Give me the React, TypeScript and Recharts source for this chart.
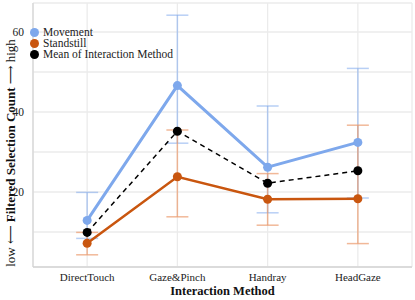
import React from 'react';
import { LineChart, Line, XAxis, YAxis, CartesianGrid, ErrorBar } from 'recharts';

const categories = ['DirectTouch', 'Gaze&Pinch', 'Handray', 'HeadGaze'];
const movement = [12.9, 46.6, 26.2, 32.4];
const movementLow = [8.4, 32.2, 14.8, 18.5];
const movementHigh = [19.9, 64.2, 41.5, 50.9];
const standstill = [7.2, 23.8, 18.2, 18.3];
const standstillLow = [4.3, 13.8, 11.7, 7.1];
const standstillHigh = [9.9, 35.5, 24.6, 36.7];
const meanValues = [9.9, 35.2, 22.2, 25.3];
const yTicks = [10, 20, 30, 40, 50, 60];
const yLabels = [20, 40, 60];

const FONT = 'Liberation Serif, DejaVu Serif, serif';
const BLUE = '#7ea8ec';
const ORANGE = '#c9560f';

const data = categories.map((c, i) => ({
  x: i,
  name: c,
  movement: movement[i],
  movementErr: [movement[i] - movementLow[i], movementHigh[i] - movement[i]],
  standstill: standstill[i],
  standstillErr: [standstill[i] - standstillLow[i], standstillHigh[i] - standstill[i]],
  mean: meanValues[i],
}));

const legendItems = [
  { label: 'Movement', color: BLUE },
  { label: 'Standstill', color: ORANGE },
  { label: 'Mean of Interaction Method', color: '#000000' },
];

const LegendBox = () => (
  <div
    style={{
      position: 'absolute',
      left: 30,
      top: 27,
      fontFamily: FONT,
      fontSize: 11.5,
      color: '#222',
      lineHeight: '11px',
    }}
  >
    {legendItems.map((it) => (
      <div key={it.label} style={{ display: 'flex', alignItems: 'center', height: 11 }}>
        <span
          style={{
            display: 'inline-block',
            width: 9,
            height: 9,
            borderRadius: '50%',
            background: it.color,
            marginRight: 4,
          }}
        />
        <span>{it.label}</span>
      </div>
    ))}
  </div>
);

const YLabel = () => {
  const cx = 10;
  const cy = 153;
  return (
    <text
      x={cx}
      y={cy}
      transform={`rotate(-90 ${cx} ${cy})`}
      textAnchor="middle"
      dominantBaseline="central"
      style={{ fontFamily: FONT, fontSize: 13, fill: '#111' }}
    >
      <tspan>low ⟵ </tspan>
      <tspan fontWeight="bold">Filtered Selection Count</tspan>
      <tspan> ⟶ high</tspan>
    </text>
  );
};

export default function App() {
  return (
    <div style={{ position: 'absolute', left: 0, top: 0, width: 415, height: 300, background: '#fff', fontFamily: FONT }}>
      <LineChart
        width={415}
        height={300}
        data={data}
        margin={{ top: 3, right: 3, left: 0, bottom: 0 }}
        style={{ fontFamily: FONT }}
      >
        <CartesianGrid stroke="#ebebeb" strokeWidth={1.3} />
        <XAxis
          dataKey="x"
          type="number"
          domain={[-0.6, 3.6]}
          ticks={[0, 1, 2, 3]}
          interval={0}
          tickFormatter={(v: number) => categories[v] ?? ''}
          height={33}
          tickLine={false}
          axisLine={{ stroke: '#d4d4d4', strokeWidth: 1.5 }}
          tick={{ style: { fontFamily: FONT }, fontSize: 11, fill: '#222' }}
          tickMargin={0}
          label={{
            value: 'Interaction Method',
            position: 'insideBottom',
            offset: 5,
            style: { fontFamily: FONT, fontSize: 12.5, fontWeight: 'bold', fill: '#111' },
          }}
        />
        <YAxis
          type="number"
          domain={[1.25, 67.25]}
          ticks={yTicks}
          interval={0}
          tickFormatter={(v: number) => (yLabels.includes(v) ? String(v) : '')}
          width={33}
          tickLine={false}
          axisLine={{ stroke: '#d4d4d4', strokeWidth: 1.2 }}
          tick={{ style: { fontFamily: FONT }, fontSize: 11.5, fill: '#222' }}
          tickMargin={3}
          allowDataOverflow
          label={<YLabel />}
        />
        <Line
          dataKey="movement"
          stroke={BLUE}
          strokeOpacity={0}
          dot={false}
          activeDot={false}
          isAnimationActive={false}
          legendType="none"
        >
          <ErrorBar dataKey="movementErr" direction="y" width={11} stroke={BLUE} strokeOpacity={0.55} strokeWidth={1.5} />
        </Line>
        <Line
          dataKey="standstill"
          stroke={ORANGE}
          strokeOpacity={0}
          dot={false}
          activeDot={false}
          isAnimationActive={false}
          legendType="none"
        >
          <ErrorBar dataKey="standstillErr" direction="y" width={11} stroke="#eb9a6c" strokeOpacity={0.7} strokeWidth={1.5} />
        </Line>
        <Line
          dataKey="movement"
          stroke={BLUE}
          strokeWidth={3}
          dot={{ r: 4.5, fill: BLUE, stroke: 'none' }}
          activeDot={false}
          isAnimationActive={false}
        />
        <Line
          dataKey="standstill"
          stroke={ORANGE}
          strokeWidth={2.6}
          dot={{ r: 4.5, fill: ORANGE, stroke: 'none' }}
          activeDot={false}
          isAnimationActive={false}
        />
        <Line
          dataKey="mean"
          stroke="#000"
          strokeWidth={1.5}
          strokeDasharray="5 4"
          dot={{ r: 4.5, fill: '#000', stroke: 'none' }}
          activeDot={false}
          isAnimationActive={false}
        />
      </LineChart>
      <LegendBox />
    </div>
  );
}
